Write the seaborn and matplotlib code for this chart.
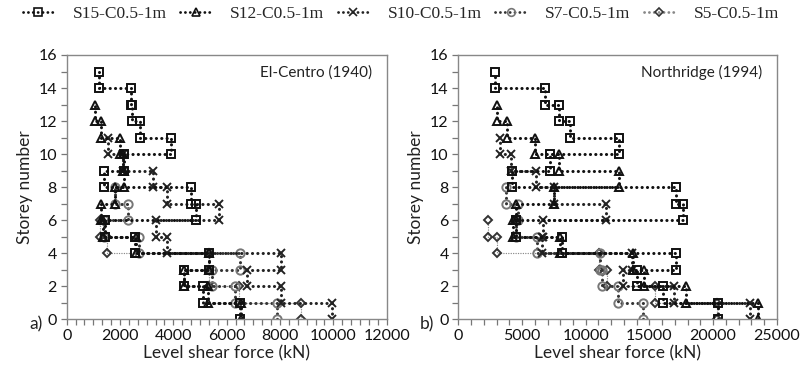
import numpy as np
import pandas as pd
import matplotlib
matplotlib.use("Agg")
import matplotlib.pyplot as plt
from matplotlib.ticker import MultipleLocator
from matplotlib.lines import Line2D
import seaborn as sns


# storey shear values (kN), storey 1 at the bottom
models = ["S15-C0.5-1m", "S12-C0.5-1m", "S10-C0.5-1m", "S7-C0.5-1m", "S5-C0.5-1m"]

elc_s15 = [6500, 5100, 4400, 5350, 2550, 1450, 4850, 4650, 1400, 2150, 3900, 2750, 2450, 2400, 1200]
elc_s12 = [6550, 5300, 4400, 5350, 2600, 1350, 1300, 1800, 2150, 2100, 2000, 1300, 1060]
elc_s10 = [9950, 8050, 6750, 8050, 3750, 3350, 5700, 3750, 3250, 2100, 1560]
elc_s7 = [7900, 6300, 5450, 6500, 2700, 1400, 2300, 1800]
elc_s5 = [8800, 6450, 5350, 5350, 1500, 1250]

nor_s15 = [20400, 16100, 14000, 17100, 8100, 4500, 17600, 17100, 4200, 7200, 12600, 8800, 7900, 6800, 2900]
nor_s12 = [23500, 17900, 14600, 13700, 8000, 4300, 4500, 7500, 12600, 7900, 6000, 3850, 3000]
nor_s10 = [22900, 16900, 12900, 13600, 6600, 6650, 11600, 7500, 6100, 4100, 3300]
nor_s7 = [14500, 12500, 11300, 11100, 6150, 4500, 4700, 3750]
nor_s5 = [20300, 15450, 11650, 11070, 3010, 2360]

records = ["El-Centro (1940)", "Northridge (1994)"]
panel_tags = ["a)", "b)"]
x_max = [12000, 25000]
x_major = [2000, 5000]
x_minor = [2000 / 6, 1000]


def step_frame(values, model, record):
    v = np.asarray(values, dtype=float)
    n = len(v)
    return pd.DataFrame({
        "shear": np.repeat(v, 2),
        "level": np.column_stack([np.arange(n), np.arange(1, n + 1)]).ravel(),
        "model": model,
        "record": record,
    })


frames = []
for rec, series in zip(records, [
    [elc_s15, elc_s12, elc_s10, elc_s7, elc_s5],
    [nor_s15, nor_s12, nor_s10, nor_s7, nor_s5],
]):
    for m, vals in zip(models, series):
        frames.append(step_frame(vals, m, rec))
df = pd.concat(frames, ignore_index=True)

# line / marker look per model
styles = {
    "S15-C0.5-1m": dict(marker="s", color="#111111", mec="#111111", lw=2.2, ms=6),
    "S12-C0.5-1m": dict(marker="^", color="#111111", mec="#111111", lw=2.2, ms=6),
    "S10-C0.5-1m": dict(marker="x", color="#222222", mec="#222222", lw=2.2, ms=6),
    "S7-C0.5-1m": dict(marker="o", color="#333333", mec="#777777", lw=2.2, ms=6),
    "S5-C0.5-1m": dict(marker="D", color="#888888", mec="#333333", lw=1.0, ms=4.5),
}
DOTS = (0, (0.05, 1.7))

sns.set_style("ticks")
plt.rcParams["font.family"] = ["Lato", "DejaVu Sans"]

fig = plt.figure(figsize=(8, 3.72), dpi=100)
axes = [fig.add_axes([0.0834, 0.1417, 0.400, 0.7105]),
        fig.add_axes([0.5730, 0.1417, 0.398, 0.7105])]

for i, (ax, rec) in enumerate(zip(axes, records)):
    sub = df[df["record"] == rec]
    for m in reversed(models):
        st = styles[m]
        d = sub[sub["model"] == m]
        sns.lineplot(
            data=d, x="shear", y="level", ax=ax, sort=False, estimator=None,
            color=st["color"], linewidth=st["lw"], linestyle=DOTS,
            dash_capstyle="round", marker=st["marker"], markersize=st["ms"],
            markerfacecolor="none" if st["marker"] != "x" else st["mec"],
            markeredgecolor=st["mec"], markeredgewidth=1.4,
            legend=False,
        )
    ax.set_xlim(0, x_max[i])
    ax.set_ylim(0, 16)
    ax.xaxis.set_major_locator(MultipleLocator(x_major[i]))
    ax.xaxis.set_minor_locator(MultipleLocator(x_minor[i]))
    ax.yaxis.set_major_locator(MultipleLocator(2))
    ax.yaxis.set_minor_locator(MultipleLocator(1))
    ax.tick_params(which="both", direction="out", length=4, width=0.9,
                   color="#777777", labelsize=11.5, labelcolor="#111111", pad=3)
    for sp in ax.spines.values():
        sp.set_color("#888888")
        sp.set_linewidth(1.0)
    ax.set_xlabel("Level shear force (kN)", fontsize=12.5, color="#222222", labelpad=2)
    ax.set_ylabel("Storey number", fontsize=12.5, color="#222222", labelpad=4)
    ax.text(0.955, 0.935, rec, transform=ax.transAxes, ha="right", va="center",
            fontsize=11, color="#222222")
    ax.text(-0.075, -0.02, panel_tags[i], transform=ax.transAxes, ha="right",
            va="center", fontsize=12.5, color="#222222")

handles = []
for m in models:
    st = styles[m]
    handles.append(Line2D([0], [0], color=st["color"], lw=2.0, linestyle=DOTS,
                          dash_capstyle="round", marker=st["marker"],
                          markersize=st["ms"] - 0.5,
                          markerfacecolor="none" if st["marker"] != "x" else st["mec"],
                          markeredgecolor=st["mec"], markeredgewidth=1.2))
fig.legend(handles, models, loc="center left", bbox_to_anchor=(0.018, 0.962), ncol=5,
           frameon=False, borderpad=0, handlelength=1.75, handletextpad=1.1,
           columnspacing=0.8, prop={"family": "Liberation Serif", "size": 12.5})

fig.savefig("out.png", dpi=100)
